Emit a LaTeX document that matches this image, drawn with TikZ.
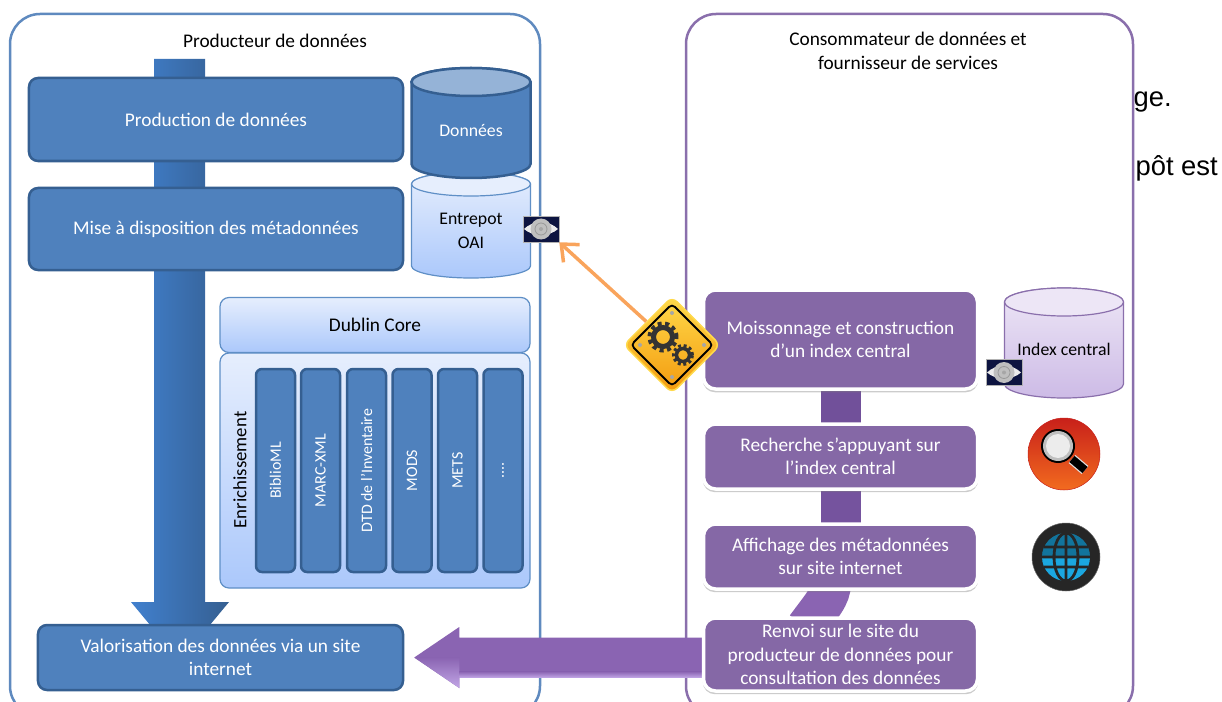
\documentclass[tikz,border=0pt]{standalone}
\usepackage{fontspec}
\usepackage{xcolor}
\setmainfont{Carlito}
\newfontfamily\stray{Liberation Sans}
\usetikzlibrary{shapes.geometric}
\usetikzlibrary{backgrounds}
\usetikzlibrary{shadows}
\usetikzlibrary{arrows.meta}
\definecolor{panelColorA}{HTML}{5F8ABF}
\definecolor{panelColorB}{HTML}{8A6FAC}
\definecolor{blueFill}{HTML}{4F81BD}
\definecolor{blueEdge}{HTML}{355F91}
\definecolor{blueTop}{HTML}{95B3D7}
\definecolor{blueShaft}{HTML}{4180CE}
\definecolor{paleTop}{HTML}{E6EEFD}
\definecolor{paleBottom}{HTML}{ABC8FB}
\definecolor{paleEdge}{HTML}{5F8FC6}
\definecolor{purpleFill}{HTML}{8568A6}
\definecolor{purpleLink}{HTML}{71509A}
\definecolor{purpleArrow}{HTML}{8A64B2}
\definecolor{purpleLight}{HTML}{C2A6E6}
\definecolor{lilacTop}{HTML}{EDE6F6}
\definecolor{lilacBottom}{HTML}{CDBBE6}
\definecolor{orangeLink}{HTML}{F9A45C}
\definecolor{oaiNavy}{HTML}{0D1440}
\definecolor{signTop}{HTML}{FFD94A}
\definecolor{signBottom}{HTML}{F39A0E}
\definecolor{globeBlue}{HTML}{1BA7E0}
\definecolor{searchTop}{HTML}{C8201A}
\definecolor{searchBottom}{HTML}{F26B1F}
\tikzset{
  blueBox/.style={rectangle, rounded corners=9bp, fill=blueFill, draw=blueEdge,
    line width=2.5bp, text=white, align=center, font=\fontsize{19.4}{23.5}\selectfont},
  purpleBox/.style={rectangle, rounded corners=12bp, fill=purpleFill, draw=white,
    line width=3.5bp, text=white, align=center, minimum width=274bp,
    font=\fontsize{19.4}{23.5}\selectfont,
    drop shadow={opacity=.4, shadow scale=1.005, shadow xshift=0bp, shadow yshift=-3bp}},
  paleBox/.style={rectangle, rounded corners=9bp, top color=paleTop, bottom color=paleBottom,
    draw=paleEdge, line width=1.2bp, minimum width=310bp},
  columnBox/.style={rectangle, rounded corners=6bp, fill=blueFill, draw=blueEdge,
    line width=2.5bp, minimum width=39bp, minimum height=203bp},
  columnText/.style={rotate=90, text=white, font=\fontsize{16}{20}\selectfont},
  plainText/.style={align=center, font=\fontsize{19.4}{23.5}\selectfont},
  cylText/.style={align=center, font=\fontsize{17.8}{23.5}\selectfont},
  panelBox/.style={rounded corners=30bp, fill=white, line width=2.5bp},
  oaiIcon/.style={rectangle, inner sep=0pt, minimum width=36bp, minimum height=26bp,
    fill=oaiNavy, draw=gray!60, line width=.5bp, path picture={
      \fill[white!85!gray] (-17,0) .. controls (-8,-9) and (8,-9) .. (17,0)
        .. controls (8,8) and (-8,8) .. (-17,0);
      \fill[gray!50] (0,0) circle (10.5bp);
      \draw[gray!80, line width=.8bp] (0,0) circle (6bp);
      \fill[gray!70] (0,0) circle (2bp);
    }},
  gearSign/.style={diamond, aspect=1, inner sep=0pt, minimum size=97bp, rounded corners=7bp,
    top color=signTop, bottom color=signBottom, draw=signTop, line width=1.5bp,
    path picture={
      \draw[black, line width=1.8bp, rounded corners=4bp] (0,-41) -- (41,0) -- (0,41) -- (-41,0) -- cycle;
      \fill[gray!70] (0,-32) circle (2bp) (32,0) circle (2bp) (0,32) circle (2bp) (-32,0) circle (2bp);
      \draw[black!80, line width=5bp] (-9,-8) circle (9.5bp);
      \draw[black!80, line width=4bp, dash pattern=on 4bp off 3.5bp] (-9,-8) circle (13.5bp);
      \draw[black!80, line width=3.5bp] (11,10) circle (6.5bp);
      \draw[black!80, line width=3bp, dash pattern=on 3bp off 2.6bp] (11,10) circle (9.5bp);
    }},
  searchIcon/.style={circle, inner sep=0pt, minimum size=72bp, draw=searchTop, line width=.5bp,
    top color=searchTop, bottom color=searchBottom, path picture={
      \draw[white!75!gray, line width=10.5bp] (8,5) -- (21,16);
      \draw[black, line width=8bp] (8,5) -- (21,16);
      \fill[black] (-6,-8) circle (17bp);
      \fill[gray!50] (-6,-8) circle (15bp);
      \fill[white!85!gray] (-6,-8) circle (12bp);
    }},
  globeIcon/.style={circle, inner sep=0pt, minimum size=68bp, fill=black!85, draw=black!60, line width=.5bp,
    path picture={
      \fill[globeBlue] (0,0) circle (24bp);
      \fill[black, opacity=.3] (-24,0) arc (180:0:24bp) -- cycle;
      \draw[black!85, line width=2.8bp] (-24,0) -- (24,0) (-22,-10) -- (22,-10) (-22,10) -- (22,10)
        (0,-24) -- (0,24) (0,0) ellipse (12bp and 24bp);
    }},
}
\begin{document}
\begin{tikzpicture}[x=1bp,y=-1bp]
\useasboundingbox (0, 0) rectangle (1222, 702);
\clip (0, 0) rectangle (1222, 702);

% box layer
\node (production) [blueBox, minimum width=374bp, minimum height=83bp] at (216, 119.5) {Production de données};
\node (mise) [blueBox, minimum width=374bp, minimum height=82bp] at (216, 229) {Mise à disposition des métadonnées};
\node (valo) [blueBox, minimum width=365bp, minimum height=65bp] at (220.5, 657.5) {Valorisation des données via un site\\internet};
\node (moisson) [purpleBox, minimum height=99bp] at (840.5, 339.5) {Moissonnage et construction\\d’un index central};
\node (recherche) [purpleBox, minimum height=65bp] at (840.5, 456.5) {Recherche s’appuyant sur\\l’index central};
\node (affichage) [purpleBox, minimum height=65bp] at (840.5, 556.5) {Affichage des métadonnées\\sur site internet};
\node (renvoi) [purpleBox, minimum height=73bp] at (840.5, 654.5) {Renvoi sur le site du\\producteur de données pour\\consultation des données};

% cylinders
\begin{scope}
\shade[top color=paleTop, bottom color=paleBottom, draw=paleEdge, line width=1.2bp]
(411.5, 184) arc (180:0:59.5bp and 12bp) -- (530.5, 266) arc (0:-180:59.5bp and 12bp) -- cycle;
\draw[paleEdge, line width=1.2bp, fill=paleTop] (471, 184) ellipse (59.5bp and 12bp);
\filldraw[fill=blueFill, draw=blueEdge, line width=2.5bp]
(411.5, 82) arc (180:0:59.5bp and 14bp) -- (530.5, 164) arc (0:-180:59.5bp and 14bp) -- cycle;
\filldraw[fill=blueTop, draw=blueEdge, line width=2.5bp] (471, 82) ellipse (59.5bp and 14bp);
\shade[top color=lilacTop, bottom color=lilacBottom, draw=panelColorB, line width=1.2bp]
(1004.5, 302) arc (180:0:59.5bp and 14bp) -- (1123.5, 384) arc (0:-180:59.5bp and 14bp) -- cycle;
\draw[panelColorB, line width=1.2bp, fill=lilacTop] (1064, 302) ellipse (59.5bp and 14bp);
\node (donnees) [text=white, cylText] at (471, 131) {Données};
\node (entrepot) [cylText] at (471, 231) {Entrepot\\OAI};
\node (index) [cylText] at (1064, 349) {Index central};
\end{scope}

% enrichment block
\begin{scope}
\node (enrich) [paleBox, minimum height=235bp] at (375, 470.5) {};
\node (dublin) [paleBox, minimum height=55bp, plainText] at (375, 325) {Dublin Core};
\node (enrichLabel) [rotate=90, font=\fontsize{18.9}{23}\selectfont] at (240, 470) {Enrichissement};
\node (colA) [columnBox] at (275.5, 470.5) {};
\node [columnText] at (275.5, 470.5) {BiblioML};
\node (colB) [columnBox] at (320.5, 470.5) {};
\node [columnText] at (320.5, 470.5) {MARC-XML};
\node (colC) [columnBox] at (366.5, 470.5) {};
\node [columnText] at (366.5, 470.5) {DTD de l’Inventaire};
\node (colD) [columnBox] at (412, 470.5) {};
\node [columnText] at (412, 470.5) {MODS};
\node (colE) [columnBox] at (457.5, 470.5) {};
\node [columnText] at (457.5, 470.5) {METS};
\node (colF) [columnBox] at (503, 470.5) {};
\node [columnText] at (503, 470.5) {....};
\end{scope}

% icons
\node (oaiA) [oaiIcon] at (541, 229) {};
\node (oaiB) [oaiIcon] at (1004, 372.5) {};
\node (gears) [gearSign] at (672, 345) {};
\node (search) [searchIcon] at (1064, 454) {};
\node (globe) [globeIcon] at (1066, 557) {};

% link layer
\draw[orangeLink, line width=3.5bp, -{Straight Barb[length=14bp, width=24bp, line width=3.5bp]}] (gears) -- (oaiA.south east);

% panels and big arrows behind everything
\begin{scope}[on background layer]
\node (strayA) [anchor=east, inner sep=0pt, font=\stray\fontsize{27.5}{30}\selectfont] at (1172, 102) {ge.};
\node (strayB) [anchor=east, inner sep=0pt, font=\stray\fontsize{27.5}{30}\selectfont] at (1218, 168) {pôt est};
\draw[panelBox, draw=panelColorA] (10, 14) rectangle (540, 716);
\draw[panelBox, draw=panelColorB] (686, 14) rectangle (1133, 716);
\node (titleA) [plainText] at (275, 41) {Producteur de données};
\node (titleB) [plainText] at (908, 51) {Consommateur de données et\\fournisseur de services};
\shade[left color=blueShaft, right color=blueEdge]
([xshift=-40.5bp, yshift=-3.5bp]valo.center) -- ++(-49, -59) -- ++(23, 0) -- ++(0, -543)
-- ++(51, 0) -- ++(0, 543) -- ++(24, 0) -- cycle;
% big purple arrow, one body and two light edges
\fill[purpleArrow] ([xshift=10bp]valo.east) -- ++(45, -30.5) -- ++(0, 10.5) -- ++(260, 0)
-- ++(0, 40) -- ++(-260, 0) -- ++(0, 10.5) -- cycle;
\shade[top color=purpleArrow, bottom color=purpleLight]
([xshift=10bp]valo.east) -- ++(45, 30.5) -- ++(0, -10.5) -- ++(0, -20) -- cycle;
\shade[top color=purpleArrow, bottom color=purpleLight]
([xshift=55bp, yshift=-14bp]valo.east) rectangle ++(260, 6);
\draw[purpleLink, line width=40bp, shorten <=-6bp, shorten >=-6bp] (moisson.south) -- (recherche.north);
\draw[purpleLink!85!purpleArrow, line width=40bp, shorten <=-6bp, shorten >=-6bp] (recherche.south) -- (affichage.north);
\draw[purpleArrow, line width=40bp] ([xshift=-9.5bp, yshift=8bp]affichage.south) .. controls ([xshift=-9.5bp, yshift=-6bp]affichage.south) and ([xshift=-18.5bp, yshift=11bp]renvoi.north) .. ([xshift=-34.5bp, yshift=-11bp]renvoi.north);
\end{scope}
\end{tikzpicture}
\end{document}
